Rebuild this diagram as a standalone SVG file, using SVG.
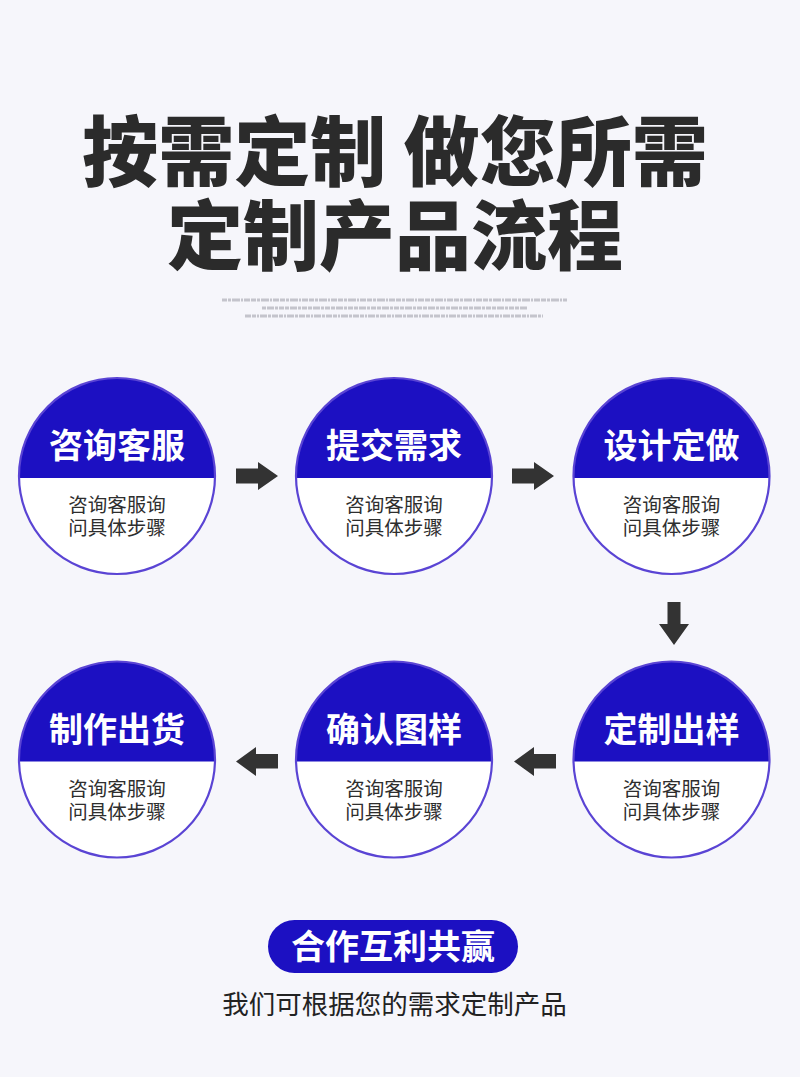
<svg xmlns="http://www.w3.org/2000/svg" xmlns:xlink="http://www.w3.org/1999/xlink" width="800" height="1077" viewBox="0 0 800 1077">
<style>
.cjk{font-family:"Noto Sans CJK SC","Noto Sans CJK JP",sans-serif;}
.title{font-size:76px;font-weight:900;fill:#2b2b2b;}
.head{font-size:34px;font-weight:700;fill:#ffffff;}
.sub{font-size:19.5px;font-weight:400;fill:#2e2e2e;}
.arrow{fill:#333333;}
.fine{stroke:#c4c4cc;stroke-width:3;fill:none;}
</style>
<defs>
<g id="disc">
<circle cx="0" cy="0" r="98" fill="#ffffff"/>
<path d="M -97.98 2 A 98 98 0 1 1 97.98 2 Z" fill="#1c10c2"/>
<circle cx="0" cy="0" r="98" fill="none" stroke="#5a44d4" stroke-width="2.2"/>
</g>
</defs>
<rect x="0" y="0" width="800" height="1077" fill="#f6f6fb"/>

<g id="title" class="cjk title" text-anchor="middle">
<text x="395" y="180">按需定制 做您所需</text>
<text x="395" y="264">定制产品流程</text>
</g>

<g id="fine-print">
<line class="fine" x1="222" y1="300" x2="567" y2="300" stroke-dasharray="5 1 3 1 8 1 2 1 6 1"/>
<line class="fine" x1="262" y1="308" x2="527" y2="308" stroke-dasharray="4 1 7 1 3 1 5 1"/>
<line class="fine" x1="245" y1="316" x2="543" y2="316" stroke-dasharray="6 1 4 1 2 1 7 1 3 1"/>
</g>

<g id="connectors">
<polygon class="arrow" points="236,468.5 258,468.5 258,462 278,476 258,490 258,483.5 236,483.5"/>
<polygon class="arrow" points="512,468.5 534,468.5 534,462 554,476 534,490 534,483.5 512,483.5"/>
<polygon class="arrow" points="667.5,602 680.5,602 680.5,624 689,624 674,645 659,624 667.5,624"/>
<polygon class="arrow" points="556,754 534,754 534,747 514,761.5 534,776 534,768.5 556,768.5"/>
<polygon class="arrow" points="278,754 256,754 256,747 236,761.5 256,776 256,768.5 278,768.5"/>
</g>

<g id="node-1" transform="translate(117,476)">
<use xlink:href="#disc"/>
<text class="cjk head" x="0" y="-18" text-anchor="middle">咨询客服</text>
<text class="cjk sub" x="0" y="36" text-anchor="middle">咨询客服询</text>
<text class="cjk sub" x="0" y="59" text-anchor="middle">问具体步骤</text>
</g>
<g id="node-2" transform="translate(394,476)">
<use xlink:href="#disc"/>
<text class="cjk head" x="0" y="-18" text-anchor="middle">提交需求</text>
<text class="cjk sub" x="0" y="36" text-anchor="middle">咨询客服询</text>
<text class="cjk sub" x="0" y="59" text-anchor="middle">问具体步骤</text>
</g>
<g id="node-3" transform="translate(671.5,476)">
<use xlink:href="#disc"/>
<text class="cjk head" x="0" y="-18" text-anchor="middle">设计定做</text>
<text class="cjk sub" x="0" y="36" text-anchor="middle">咨询客服询</text>
<text class="cjk sub" x="0" y="59" text-anchor="middle">问具体步骤</text>
</g>
<g id="node-4" transform="translate(671.5,759.5)">
<use xlink:href="#disc"/>
<text class="cjk head" x="0" y="-18" text-anchor="middle">定制出样</text>
<text class="cjk sub" x="0" y="36" text-anchor="middle">咨询客服询</text>
<text class="cjk sub" x="0" y="59" text-anchor="middle">问具体步骤</text>
</g>
<g id="node-5" transform="translate(394,759.5)">
<use xlink:href="#disc"/>
<text class="cjk head" x="0" y="-18" text-anchor="middle">确认图样</text>
<text class="cjk sub" x="0" y="36" text-anchor="middle">咨询客服询</text>
<text class="cjk sub" x="0" y="59" text-anchor="middle">问具体步骤</text>
</g>
<g id="node-6" transform="translate(117,759.5)">
<use xlink:href="#disc"/>
<text class="cjk head" x="0" y="-18" text-anchor="middle">制作出货</text>
<text class="cjk sub" x="0" y="36" text-anchor="middle">咨询客服询</text>
<text class="cjk sub" x="0" y="59" text-anchor="middle">问具体步骤</text>
</g>

<g id="badge">
<rect x="268" y="920" width="250" height="53" rx="26.5" fill="#1c10c2"/>
<text class="cjk head" x="393" y="959" text-anchor="middle">合作互利共赢</text>
</g>
<g id="footer">
<text class="cjk" x="394.5" y="1014" text-anchor="middle" font-size="26.5" fill="#222222">我们可根据您的需求定制产品</text>
</g>
</svg>
